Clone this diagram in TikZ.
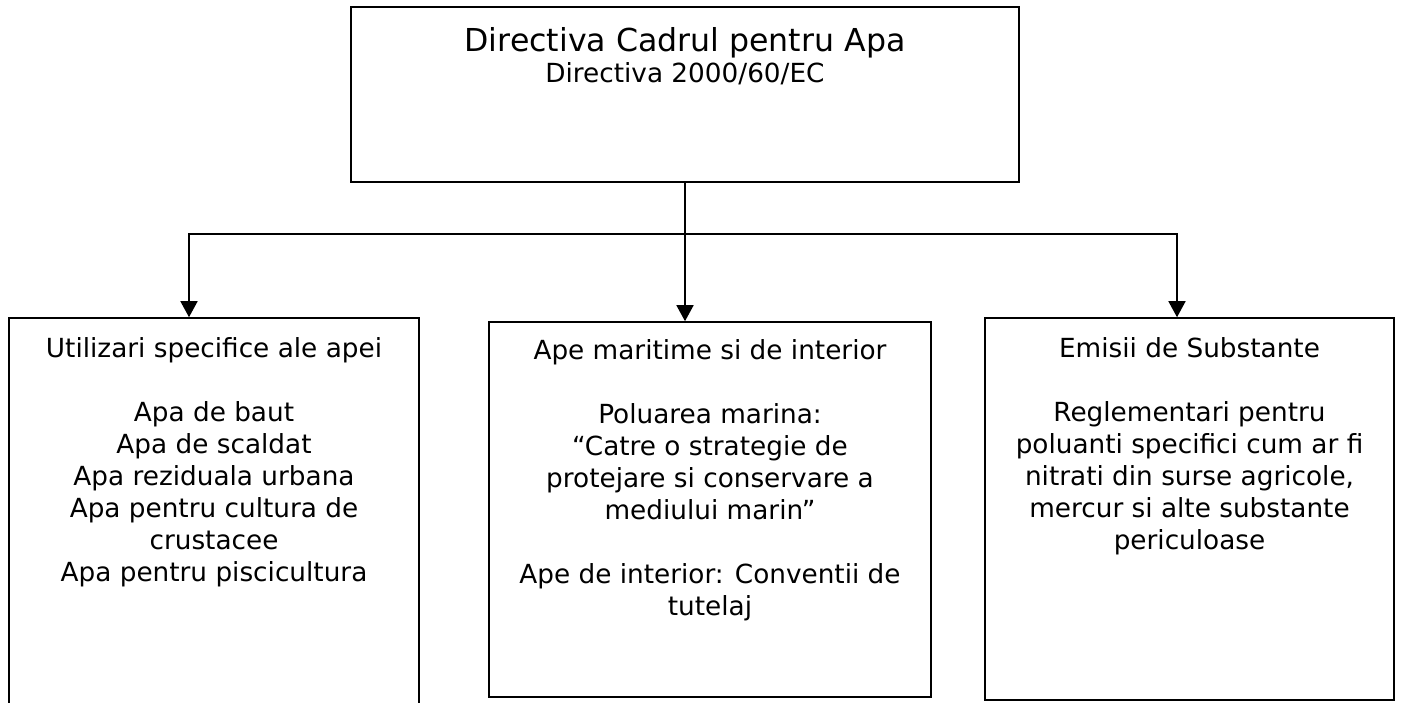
\documentclass[tikz,border=0pt]{standalone}
\usepackage{fontspec}
\setmainfont{DejaVu Sans}
\usetikzlibrary{positioning, arrows.meta}

\tikzset{
	box/.style={draw, line width=0.8pt, inner sep=0pt},
	txt/.style={align=center, inner sep=0pt, font=\fontsize{13.15}{16}\selectfont},
	conn/.style={line width=0.8pt},
	arr/.style={conn, -{Triangle[width=8.5pt, length=8pt]}}
}

\begin{document}
\begin{tikzpicture}[x=0.5pt, y=-0.5pt]
	\useasboundingbox (0,0) rectangle (1401,702);
	\clip (0,0) rectangle (1401,702);

	\node[box, minimum width=334pt, minimum height=87.5pt] (dir) at (685,94.5) {};
	\node[box, minimum width=205pt, minimum height=206pt] (util) at (214,524) {};
	\node[box, minimum width=221pt, minimum height=187.5pt] (ape) at (710,509.5) {};
	\node[box, minimum width=204.5pt, minimum height=191pt] (emis) at (1189.5,509) {};

	\node[txt, font=\fontsize{15.8}{19}\selectfont, below=10.5pt of dir.north] (dirtitle) {Directiva Cadrul pentru Apa};
	\node[txt, anchor=base] (dirsub) at ([yshift=-15.5pt]dirtitle.base) {Directiva 2000/60/EC};

	\node[txt, below=10pt of util.north] (utiltext) {Utilizari specifice ale apei\\[16pt]
		Apa de baut\\ Apa de scaldat\\ Apa reziduala urbana\\ Apa pentru cultura de\\ crustacee\\ Apa pentru piscicultura};
	\node[txt, below=9pt of ape.north] (apetext) {Ape maritime si de interior\\[16pt]
		Poluarea marina:\\ “Catre o strategie de\\ protejare si conservare a\\ mediului marin”\\[16pt]
		Ape de interior: Conventii de\\ tutelaj};
	\node[txt, below=10pt of emis.north] (emistext) {Emisii de Substante\\[16pt]
		Reglementari pentru\\ poluanti specifici cum ar fi\\ nitrati din surse agricole,\\ mercur si alte substante\\ periculoase};

	\coordinate (hub) at (685,234);
	\draw[conn] (dir.south) -- (hub);
	\draw[arr] (hub) -| ([xshift=-12.5pt]util.north);
	\draw[arr] (hub) -- (hub |- ape.north);
	\draw[arr] (hub) -| ([xshift=-6.25pt]emis.north);
\end{tikzpicture}
\end{document}
